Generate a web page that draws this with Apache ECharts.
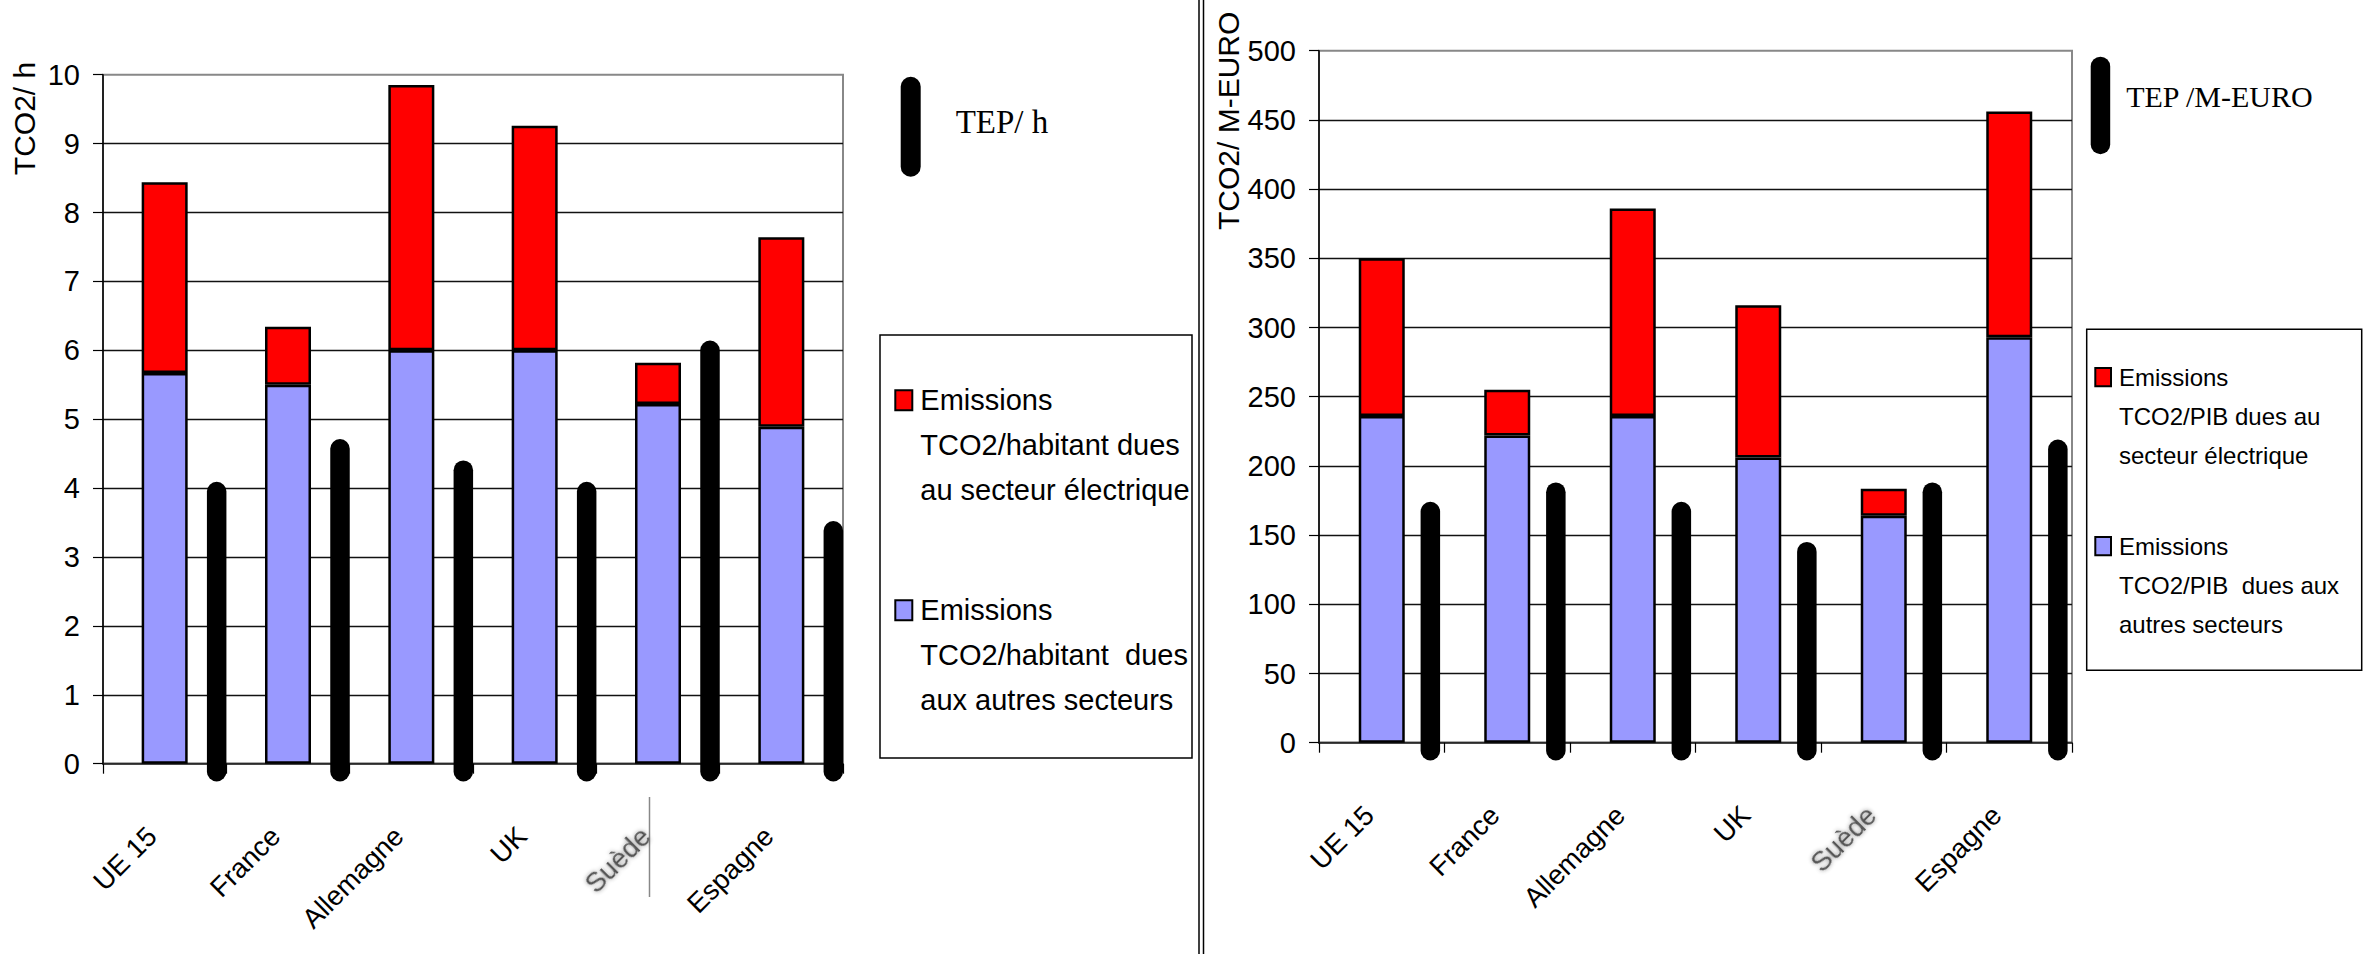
<!DOCTYPE html>
<html>
<head>
<meta charset="utf-8">
<script src="https://cdn.jsdelivr.net/npm/echarts@6/dist/echarts.min.js"></script>
<style>
  html, body { margin: 0; padding: 0; background: #fff; }
  #chart { width: 2366px; height: 954px; }
</style>
</head>
<body>
<div id="chart"></div>
<script>
// Countries shared by both panels
const CATEGORIES = ['UE 15', 'France', 'Allemagne', 'UK', 'Suède', 'Espagne'];

// Left panel: emissions per inhabitant (t CO2 / h) and energy per inhabitant (TEP / h)
const HAB_OTHER = [5.67, 5.5, 6.0, 6.0, 5.22, 4.89];
const HAB_ELEC  = [2.77, 0.84, 3.85, 3.26, 0.6, 2.75];
const HAB_TEP   = [3.95, 4.57, 4.26, 3.95, 6.0, 3.38];
const HAB_SCALE = { min: 0, max: 10, interval: 1 };

// Right panel: emissions per GDP (t CO2 / M-EURO) and energy per GDP (TEP / M-EURO)
const PIB_OTHER = [236, 222, 236, 206, 164, 293];
const PIB_ELEC  = [114, 33, 150, 110, 19.5, 163];
const PIB_TEP   = [167, 181, 167, 138, 181, 212];
const PIB_SCALE = { min: 0, max: 500, interval: 50 };

const HAB_NAMES = {
  elec: 'Emissions\nTCO2/habitant dues\nau secteur électrique',
  other: 'Emissions\nTCO2/habitant  dues\naux autres secteurs',
  tep: 'TEP/ h'
};
const PIB_NAMES = {
  elec: 'Emissions\nTCO2/PIB dues au\nsecteur électrique',
  other: 'Emissions\nTCO2/PIB  dues aux\nautres secteurs',
  tep: 'TEP /M-EURO'
};
const AXIS_TITLES = ['TCO2/ h', 'TCO2/ M-EURO'];

const SANS = '"Liberation Sans", Arial, sans-serif';
const SERIF = '"Liberation Serif", "Times New Roman", serif';
const BLUE = '#9999FF';
const RED = '#FF0000';
const STADIUM = 'path://M0,10A10,10,0,0,1,20,10L20,90A10,10,0,0,1,0,90Z';

// The Swedish label is printed faded and fuzzy
const HAZE = { color: '#555', textShadowColor: 'rgba(0,0,0,0.45)', textShadowBlur: 4 };

function catAxis(gridIndex) {
  return {
    type: 'category',
    gridIndex,
    data: CATEGORIES.map(c => c === 'Suède' ? { value: c, textStyle: HAZE } : c),
    axisLine: { lineStyle: { color: '#333', width: 1.5 } },
    axisTick: { show: true, length: 10, interval: 0, lineStyle: { color: '#000', width: 1.2 } },
    axisLabel: {
      interval: 0, rotate: 45, margin: 55, fontSize: 27.5, fontFamily: SANS,
      color: '#000', padding: [0, 18, 0, 0]
    },
    splitLine: { show: false }
  };
}

function valAxis(gridIndex, scale) {
  return {
    type: 'value',
    gridIndex,
    min: scale.min, max: scale.max, interval: scale.interval,
    axisLine: { show: true, lineStyle: { color: '#000', width: 1.5 } },
    axisTick: { show: true, length: 10, lineStyle: { color: '#000', width: 1.2 } },
    axisLabel: { margin: 23, fontSize: 29, fontFamily: SANS, color: '#000' },
    splitLine: { show: true, showMaxLine: false, lineStyle: { color: '#111', width: 1.3 } }
  };
}

// Thick round-capped rod from the baseline up to the value, set to the right of the stacked bar
function rod(offset) {
  return function (params, api) {
    const cat = api.value(0);
    const base = api.coord([cat, 0]);
    const top = api.coord([cat, api.value(1)]);
    const x = base[0] + offset;
    return {
      type: 'line',
      shape: { x1: x, y1: base[1] + 8, x2: x, y2: top[1] },
      style: { stroke: '#000', lineWidth: 19.5, lineCap: 'round', fill: null }
    };
  };
}

function barSeries(name, axis, stack, data, color) {
  return {
    type: 'bar', name, xAxisIndex: axis, yAxisIndex: axis, stack, data,
    barWidth: 46,
    itemStyle: { color, borderColor: '#000', borderWidth: 2.5, borderType: 'solid' },
    emphasis: { disabled: true }
  };
}

function rodSeries(name, axis, values, offset) {
  return {
    type: 'custom', name, xAxisIndex: axis, yAxisIndex: axis,
    data: values.map((v, i) => [i, v]),
    renderItem: rod(offset),
    itemStyle: { color: '#000' },
    clip: false, z: 3
  };
}

// Legend label lines as rich text so that the padding positions the block
const lines = style => name => name.split('\n').map(l => '{' + style + '|' + l + '}').join('\n');

const rodLegend = (name, left, top, width, fontSize, lift, gap) => ({
  left, top, padding: 0, selectedMode: false,
  itemWidth: width, itemHeight: 100.6,
  data: [{ name, icon: STADIUM }],
  itemStyle: { color: '#000' },
  formatter: lines('s'),
  textStyle: {
    padding: [0, 0, lift * 2, gap],
    rich: { s: { fontFamily: SERIF, fontSize, color: '#000' } }
  }
});

// One framed-legend entry: square swatch beside the first of three text lines
const boxLegend = (name, left, iconCenterY, size, fontSize, lineHeight) => ({
  left, top: iconCenterY - size[1] / 2 - 1, padding: 0, selectedMode: false,
  icon: 'rect', itemWidth: size[0], itemHeight: size[1],
  data: [name],
  itemStyle: { borderColor: '#000', borderWidth: 2 },
  formatter: lines('t'),
  textStyle: {
    padding: [lineHeight * 2, 0, 0, 3],
    rich: { t: { fontFamily: SANS, fontSize, lineHeight, color: '#000' } }
  }
});

const chart = echarts.init(document.getElementById('chart'), null, { renderer: 'svg' });

chart.setOption({
  animation: false,
  backgroundColor: '#fff',
  grid: [
    { left: 103, top: 74.7, width: 740, height: 689, show: true, borderColor: '#888', borderWidth: 2, outerBoundsMode: 'none' },
    { left: 1319, top: 50.7, width: 753, height: 692, show: true, borderColor: '#888', borderWidth: 2, outerBoundsMode: 'none' }
  ],
  xAxis: [catAxis(0), catAxis(1)],
  yAxis: [valAxis(0, HAB_SCALE), valAxis(1, PIB_SCALE)],
  legend: [
    rodLegend(HAB_NAMES.tep, 900.7, 76.7, 20, 33, 5, 30),
    boxLegend(HAB_NAMES.elec, 894.3, 396.7, [17, 20], 29, 45),
    boxLegend(HAB_NAMES.other, 894.3, 606.7, [17, 20], 29, 45),
    rodLegend(PIB_NAMES.tep, 2090.7, 56.7, 19.5, 30, 9, 11),
    boxLegend(PIB_NAMES.elec, 2094.3, 375.2, [15.7, 18.3], 24, 39),
    boxLegend(PIB_NAMES.other, 2094.3, 544.3, [15.7, 18.3], 24, 39)
  ],
  series: [
    barSeries(HAB_NAMES.other, 0, 'hab', HAB_OTHER, BLUE),
    barSeries(HAB_NAMES.elec, 0, 'hab', HAB_ELEC, RED),
    rodSeries(HAB_NAMES.tep, 0, HAB_TEP, 52),
    barSeries(PIB_NAMES.other, 1, 'pib', PIB_OTHER, BLUE),
    barSeries(PIB_NAMES.elec, 1, 'pib', PIB_ELEC, RED),
    rodSeries(PIB_NAMES.tep, 1, PIB_TEP, 48.6)
  ],
  graphic: [
    // double rule between the two panels
    { type: 'line', shape: { x1: 1199, y1: 0, x2: 1199, y2: 954 }, style: { stroke: '#000', lineWidth: 1.5 } },
    { type: 'line', shape: { x1: 1203.5, y1: 0, x2: 1203.5, y2: 954 }, style: { stroke: '#000', lineWidth: 1.5 } },
    // vertical axis titles
    { type: 'text', x: 24.7, y: 118.5, rotation: Math.PI / 2,
      style: { text: AXIS_TITLES[0], fontSize: 30, fontFamily: SANS, fill: '#000', align: 'center', verticalAlign: 'middle' } },
    { type: 'text', x: 1228, y: 120.8, rotation: Math.PI / 2,
      style: { text: AXIS_TITLES[1], fontSize: 30, fontFamily: SANS, fill: '#000', align: 'center', verticalAlign: 'middle' } },
    // legend frames
    { type: 'rect', shape: { x: 880, y: 335, width: 312, height: 423 }, style: { fill: 'none', stroke: '#000', lineWidth: 1.5 } },
    { type: 'rect', shape: { x: 2086.7, y: 329.3, width: 275, height: 341 }, style: { fill: 'none', stroke: '#000', lineWidth: 1.5 } },
    // edge of the pasted Swedish label box
    { type: 'line', shape: { x1: 649.5, y1: 797, x2: 649.5, y2: 897 }, style: { stroke: '#888', lineWidth: 1.5 } }
  ]
});
</script>
</body>
</html>
